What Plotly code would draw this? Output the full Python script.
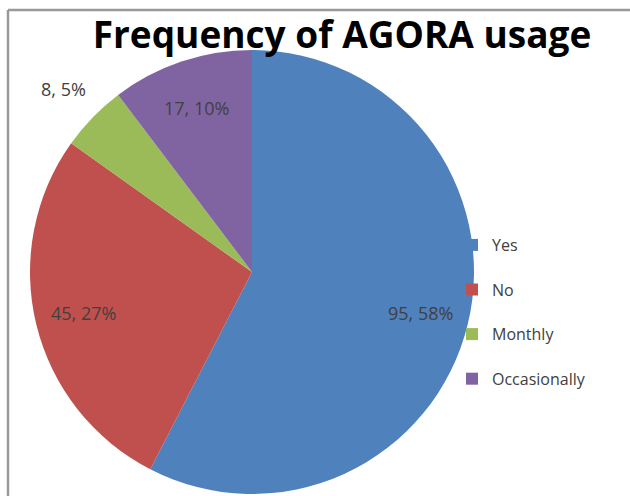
import math
import plotly.graph_objects as go

labels = ["Yes", "No", "Monthly", "Occasionally"]
values = [95, 45, 8, 17]
colors = ["#4F81BD", "#C0504D", "#9BBB59", "#8064A2"]
label_outside = [False, False, True, False]

W, H = 630, 496
cx, cy, r = 252, 272, 222

fig = go.Figure(go.Pie(
    labels=[l + "<br> " for l in labels],
    values=values,
    sort=False,
    direction="clockwise",
    rotation=0,
    marker=dict(colors=colors, line=dict(width=0)),
    textinfo="none",
    domain=dict(x=[(cx - r) / W, (cx + r) / W], y=[(H - cy - r) / H, (H - cy + r) / H]),
    hoverinfo="label+value+percent",
))

# data labels placed along each slice's mid angle (Excel-style)
total = sum(values)
annotations = []
cum = 0
for lab, v, outside in zip(labels, values, label_outside):
    mid = (cum + v / 2) / total * 2 * math.pi
    cum += v
    rr = r * (1.185 if outside else 0.78)
    px = cx + rr * math.sin(mid)
    py = cy - rr * math.cos(mid)
    annotations.append(dict(
        x=px / W, y=1 - py / H, xref="paper", yref="paper",
        text=f"{v}, {round(100 * v / total)}%", showarrow=False,
        xanchor="center", yanchor="middle",
        font=dict(family="Open Sans", size=18, color="#404040"),
    ))

frame = dict(color="#999999", width=2.5)
fig.update_layout(
    width=W, height=H,
    margin=dict(l=0, r=0, t=0, b=0),
    paper_bgcolor="white",
    title=dict(text="<b>Frequency of AGORA usage</b>", x=342 / W, xanchor="center",
               y=1 - 35 / H, yanchor="middle",
               font=dict(family="Open Sans", size=37, color="#000000")),
    showlegend=True,
    legend=dict(x=452 / W, y=1 - 228 / H, xanchor="left", yanchor="top",
                valign="top",
                font=dict(family="Open Sans", size=16, color="#404040"),
                bgcolor="rgba(0,0,0,0)"),
    annotations=annotations,
    shapes=[
        dict(type="line", xref="paper", yref="paper",
             x0=8 / W, x1=8 / W, y0=0, y1=1 - 10 / H, line=frame),
        dict(type="line", xref="paper", yref="paper",
             x0=8 / W, x1=1, y0=1 - 10 / H, y1=1 - 10 / H, line=frame),
    ],
)

fig.write_html("out.html", config={"displayModeBar": False},
               post_script="document.body.style.margin='0';")
